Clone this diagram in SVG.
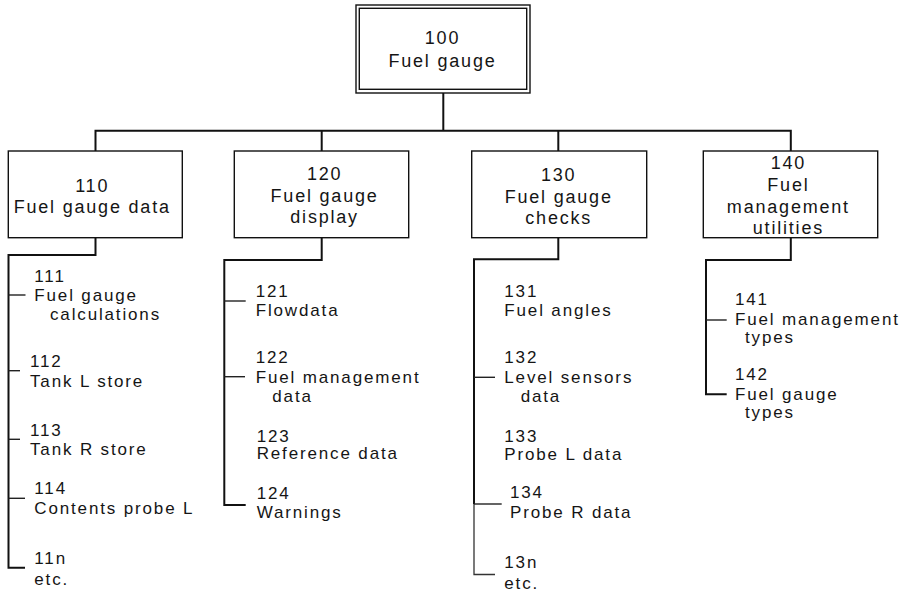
<svg xmlns="http://www.w3.org/2000/svg" width="911" height="592" viewBox="0 0 911 592">
  <style>
    .box { fill: #fff; stroke: #111; stroke-width: 1.4; }
    .wire { fill: none; stroke: #111; stroke-width: 2; }
    .tick { fill: none; stroke: #222; stroke-width: 1.4; }
    .thin { fill: none; stroke: #333; stroke-width: 1.3; }
    text { font-family: "Liberation Sans", Arial, sans-serif; fill: #151515; }
    .bt { font-size: 18px; letter-spacing: 1.8px; text-anchor: middle; }
    .lt { font-size: 17px; letter-spacing: 1.85px; }
  </style>

  <rect width="911" height="592" fill="#fff"/>

  <!-- connectors -->
  <g id="connectors">
    <!-- root to level 1 -->
    <path class="wire" d="M443.3 93 V130.7"/>
    <path class="wire" d="M95.5 151 V130.7 H790.8 V151"/>
    <path class="wire" d="M321.7 130.7 V151"/>
    <path class="wire" d="M558.3 130.7 V151"/>

    <!-- 110 branch -->
    <path class="wire" d="M95.5 237.7 V255 H8.5 V567.7 H25"/>
    <path class="tick" d="M8.5 295 H25.5"/>
    <path class="tick" d="M8.5 370.7 H20"/>
    <path class="tick" d="M8.5 439.3 H20"/>
    <path class="tick" d="M8.5 498.3 H25"/>

    <!-- 120 branch -->
    <path class="wire" d="M321.7 237.7 V260 H224.3 V505 H245.7"/>
    <path class="tick" d="M224.3 301 H245.7"/>
    <path class="tick" d="M224.3 376.7 H245"/>

    <!-- 130 branch -->
    <path class="wire" d="M558.3 237.7 V259.3 H474 V504"/>
    <path class="thin" d="M474 504 V574.5 H495"/>
    <path class="tick" d="M474 377.3 H495"/>
    <path class="tick" d="M474 504 H501.7"/>

    <!-- 140 branch -->
    <path class="wire" d="M790.8 237.7 V260 H706 V394.3 H726.7"/>
    <path class="tick" d="M706 320 H726.7"/>
  </g>

  <!-- root -->
  <g id="n100">
    <rect class="box" x="356" y="5" width="174" height="88"/>
    <rect class="box" x="359.3" y="8.3" width="167.4" height="81"/>
    <text class="bt" x="442.5" y="44">100</text>
    <text class="bt" x="442.5" y="67">Fuel gauge</text>
  </g>

  <!-- level 1 -->
  <g id="n110">
    <rect class="box" x="8.3" y="151" width="174" height="86.7"/>
    <text class="bt" x="92.2" y="191.7">110</text>
    <text class="bt" x="92.2" y="212.7">Fuel gauge data</text>
  </g>
  <g id="n120">
    <rect class="box" x="234.3" y="151" width="174.4" height="86.7"/>
    <text class="bt" x="324.6" y="180">120</text>
    <text class="bt" x="324.6" y="202">Fuel gauge</text>
    <text class="bt" x="324.6" y="223">display</text>
  </g>
  <g id="n130">
    <rect class="box" x="471.7" y="151" width="175" height="86.7"/>
    <text class="bt" x="558.7" y="181">130</text>
    <text class="bt" x="558.7" y="203">Fuel gauge</text>
    <text class="bt" x="558.7" y="224">checks</text>
  </g>
  <g id="n140">
    <rect class="box" x="703.3" y="151" width="174.4" height="86.7"/>
    <text class="bt" x="788.4" y="169">140</text>
    <text class="bt" x="788.4" y="191">Fuel</text>
    <text class="bt" x="788.4" y="212.7">management</text>
    <text class="bt" x="788.4" y="234">utilities</text>
  </g>

  <!-- 110 children -->
  <g id="n111">
    <text class="lt" x="34.3" y="281.7">111</text>
    <text class="lt" x="34.3" y="300.7">Fuel gauge</text>
    <text class="lt" x="50" y="320">calculations</text>
  </g>
  <g id="n112">
    <text class="lt" x="30" y="366.7">112</text>
    <text class="lt" x="30" y="387.3">Tank L store</text>
  </g>
  <g id="n113">
    <text class="lt" x="30" y="436">113</text>
    <text class="lt" x="30" y="455">Tank R store</text>
  </g>
  <g id="n114">
    <text class="lt" x="34.3" y="494.3">114</text>
    <text class="lt" x="34.3" y="514">Contents probe L</text>
  </g>
  <g id="n11n">
    <text class="lt" x="34.3" y="564.3">11n</text>
    <text class="lt" x="34.3" y="585">etc.</text>
  </g>

  <!-- 120 children -->
  <g id="n121">
    <text class="lt" x="255.7" y="296.7">121</text>
    <text class="lt" x="255.7" y="315.7">Flowdata</text>
  </g>
  <g id="n122">
    <text class="lt" x="255.7" y="363.3">122</text>
    <text class="lt" x="255.7" y="383.3">Fuel management</text>
    <text class="lt" x="272.3" y="401.5">data</text>
  </g>
  <g id="n123">
    <text class="lt" x="256.7" y="441.5">123</text>
    <text class="lt" x="256.7" y="459">Reference data</text>
  </g>
  <g id="n124">
    <text class="lt" x="256.7" y="499">124</text>
    <text class="lt" x="256.7" y="517.5">Warnings</text>
  </g>

  <!-- 130 children -->
  <g id="n131">
    <text class="lt" x="504.3" y="296.7">131</text>
    <text class="lt" x="504.3" y="315.7">Fuel angles</text>
  </g>
  <g id="n132">
    <text class="lt" x="504.3" y="363.3">132</text>
    <text class="lt" x="504.3" y="383.3">Level sensors</text>
    <text class="lt" x="520.7" y="401.5">data</text>
  </g>
  <g id="n133">
    <text class="lt" x="504.3" y="441.5">133</text>
    <text class="lt" x="504.3" y="459.5">Probe L data</text>
  </g>
  <g id="n134">
    <text class="lt" x="510" y="498.3">134</text>
    <text class="lt" x="510" y="518.3">Probe R data</text>
  </g>
  <g id="n13n">
    <text class="lt" x="504.3" y="568">13n</text>
    <text class="lt" x="504.3" y="589">etc.</text>
  </g>

  <!-- 140 children -->
  <g id="n141">
    <text class="lt" x="735" y="305">141</text>
    <text class="lt" x="735" y="324.5">Fuel management</text>
    <text class="lt" x="745" y="342.5">types</text>
  </g>
  <g id="n142">
    <text class="lt" x="735" y="380">142</text>
    <text class="lt" x="735" y="399.5">Fuel gauge</text>
    <text class="lt" x="745" y="418">types</text>
  </g>
</svg>
